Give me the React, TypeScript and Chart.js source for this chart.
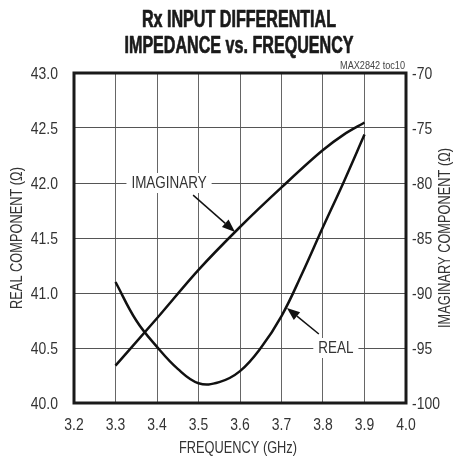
import React, { useEffect, useRef } from "react";
import { Chart, registerables } from "chart.js";

Chart.register(...registerables);

const FONT = "'Liberation Sans', Arial, sans-serif";

const titleLines = ["Rx INPUT DIFFERENTIAL", "IMPEDANCE vs. FREQUENCY"];
const xTitle = "FREQUENCY (GHz)";
const yLeftTitle = "REAL COMPONENT (\u03A9)";
const yRightTitle = "IMAGINARY COMPONENT (\u03A9)";
const noteText = "MAX2842 toc10";

const xTicks = [3.2, 3.3, 3.4, 3.5, 3.6, 3.7, 3.8, 3.9, 4.0];
const yLeftTicks = [40.0, 40.5, 41.0, 41.5, 42.0, 42.5, 43.0];
const yRightTicks = [-100, -95, -90, -85, -80, -75, -70];

const realFreq = [3.3, 3.35, 3.4, 3.45, 3.5, 3.55, 3.6, 3.65, 3.7, 3.75, 3.8, 3.85, 3.9];
const realValues = [41.10, 40.75, 40.51, 40.31, 40.18, 40.19, 40.29, 40.50, 40.79, 41.18, 41.60, 42.01, 42.44];

const imagFreq = [3.3, 3.4, 3.5, 3.6, 3.7, 3.8, 3.85, 3.9];
const imagValues = [-96.6, -92.3, -87.9, -84.0, -80.4, -77.0, -75.6, -74.5];

// annotation anchors in data units (frequency, real-axis value)
const imagLabel = { text: "IMAGINARY", x: 3.429, y: 42.0, fromX: 3.487, fromY: 41.89, toX: 3.588, toY: 41.555 };
const realLabel = { text: "REAL", x: 3.831, y: 40.5, fromX: 3.79, fromY: 40.627, toX: 3.713, toY: 40.864 };

const drawText = (
  ctx: CanvasRenderingContext2D,
  text: string,
  x: number,
  y: number,
  opts: { size: number; bold?: boolean; sx: number; align: CanvasTextAlign; color: string; rot?: number; stroke?: number }
) => {
  ctx.save();
  ctx.translate(x, y);
  if (opts.rot) ctx.rotate(opts.rot);
  ctx.scale(opts.sx, 1);
  ctx.font = `${opts.bold ? "bold " : ""}${opts.size}px ${FONT}`;
  ctx.textAlign = opts.align;
  ctx.textBaseline = "middle";
  ctx.fillStyle = opts.color;
  ctx.fillText(text, 0, 0);
  if (opts.stroke) {
    ctx.strokeStyle = opts.color;
    ctx.lineWidth = opts.stroke;
    ctx.lineJoin = "round";
    ctx.strokeText(text, 0, 0);
  }
  ctx.restore();
};

const drawArrow = (ctx: CanvasRenderingContext2D, x1: number, y1: number, x2: number, y2: number) => {
  const ang = Math.atan2(y2 - y1, x2 - x1);
  const headLen = 13;
  const headW = 5;
  const bx = x2 - headLen * Math.cos(ang);
  const by = y2 - headLen * Math.sin(ang);
  ctx.strokeStyle = "#111";
  ctx.lineWidth = 1.5;
  ctx.beginPath();
  ctx.moveTo(x1, y1);
  ctx.lineTo(bx, by);
  ctx.stroke();
  ctx.fillStyle = "#111";
  ctx.beginPath();
  ctx.moveTo(x2, y2);
  ctx.lineTo(bx + headW * Math.sin(ang), by - headW * Math.cos(ang));
  ctx.lineTo(bx - headW * Math.sin(ang), by + headW * Math.cos(ang));
  ctx.closePath();
  ctx.fill();
};

const TEXT = "#333";

const decorPlugin = {
  id: "decor",
  afterDatasetsDraw(chart: any) {
    const { ctx, chartArea, scales } = chart;
    const xs = scales.x;
    const ys = scales.y;
    const ys1 = scales.y1;
    ctx.save();
    // frame
    ctx.strokeStyle = "#1a1a1a";
    ctx.lineWidth = 3;
    ctx.strokeRect(chartArea.left, chartArea.top, chartArea.right - chartArea.left, chartArea.bottom - chartArea.top);

    // labels with arrows
    for (const l of [imagLabel, realLabel]) {
      const cx = xs.getPixelForValue(l.x);
      const cy = ys.getPixelForValue(l.y);
      ctx.font = `16px ${FONT}`;
      const w = ctx.measureText(l.text).width * 0.84;
      ctx.fillStyle = "#ffffff";
      ctx.fillRect(cx - w / 2 - 5, cy - 10, w + 10, 20);
      drawText(ctx, l.text, cx, cy + 1, { size: 16, sx: 0.84, align: "center", color: TEXT });
      drawArrow(ctx, xs.getPixelForValue(l.fromX), ys.getPixelForValue(l.fromY), xs.getPixelForValue(l.toX), ys.getPixelForValue(l.toY));
    }

    // ticks
    for (const t of xTicks) {
      drawText(ctx, t.toFixed(1), xs.getPixelForValue(t), 425, { size: 17, sx: 0.82, align: "center", color: TEXT });
    }
    for (const t of yLeftTicks) {
      drawText(ctx, t.toFixed(1), 58, ys.getPixelForValue(t) + 1, { size: 17, sx: 0.82, align: "right", color: TEXT });
    }
    for (const t of yRightTicks) {
      drawText(ctx, String(t), 412, ys1.getPixelForValue(t) + 1, { size: 17, sx: 0.82, align: "left", color: TEXT });
    }

    // title
    drawText(ctx, titleLines[0], 239, 21, { size: 23, bold: true, sx: 0.7, align: "center", color: "#1a1a1a", stroke: 0.7 });
    drawText(ctx, titleLines[1], 239, 47, { size: 23, bold: true, sx: 0.7, align: "center", color: "#1a1a1a", stroke: 0.7 });

    // note
    drawText(ctx, noteText, chartArea.right - 1, 66, { size: 11, sx: 0.83, align: "right", color: "#444" });

    // axis titles
    drawText(ctx, xTitle, 238, 449, { size: 16, sx: 0.8, align: "center", color: TEXT });
    const midY = (chartArea.top + chartArea.bottom) / 2;
    drawText(ctx, yLeftTitle, 18, midY, { size: 16, sx: 0.8, align: "center", color: TEXT, rot: -Math.PI / 2 });
    drawText(ctx, yRightTitle, 446, midY, { size: 16, sx: 0.8, align: "center", color: TEXT, rot: -Math.PI / 2 });
    ctx.restore();
  },
};

export default function App() {
  const ref = useRef<HTMLCanvasElement | null>(null);
  useEffect(() => {
    if (!ref.current) return;
    const chart = new Chart(ref.current, {
      type: "line",
      data: {
        datasets: [
          {
            label: "REAL",
            data: realFreq.map((f, i) => ({ x: f, y: realValues[i] })),
            yAxisID: "y",
            borderColor: "#111",
            borderWidth: 2.5,
            pointRadius: 0,
            tension: 0.4,
            fill: false,
          },
          {
            label: "IMAGINARY",
            data: imagFreq.map((f, i) => ({ x: f, y: imagValues[i] })),
            yAxisID: "y1",
            borderColor: "#111",
            borderWidth: 2.5,
            pointRadius: 0,
            cubicInterpolationMode: "monotone",
            fill: false,
          },
        ],
      },
      options: {
        responsive: false,
        animation: false,
        devicePixelRatio: 1,
        layout: { padding: { top: 73, left: 0, right: 0, bottom: 0 } },
        plugins: { legend: { display: false }, tooltip: { enabled: false }, title: { display: false } },
        scales: {
          x: {
            type: "linear",
            min: 3.2,
            max: 4.0,
            afterFit: (s: any) => { s.height = 59; },
            ticks: { stepSize: 0.1, display: false },
            grid: { color: "#666", lineWidth: 1, drawTicks: false },
            border: { display: false },
          },
          y: {
            type: "linear",
            position: "left",
            min: 40,
            max: 43,
            afterFit: (s: any) => { s.width = 74; },
            ticks: { stepSize: 0.5, display: false },
            grid: { color: "#555", lineWidth: 1, drawTicks: false },
            border: { display: false },
          },
          y1: {
            type: "linear",
            position: "right",
            min: -100,
            max: -70,
            afterFit: (s: any) => { s.width = 54; },
            ticks: { stepSize: 5, display: false },
            grid: { display: false, drawTicks: false },
            border: { display: false },
          },
        },
      },
      plugins: [decorPlugin],
    } as any);
    return () => chart.destroy();
  }, []);
  return (
    <div style={{ position: "absolute", left: 0, top: 0, width: 460, height: 462, background: "#fff" }}>
      <canvas ref={ref} width={460} height={462} />
    </div>
  );
}
